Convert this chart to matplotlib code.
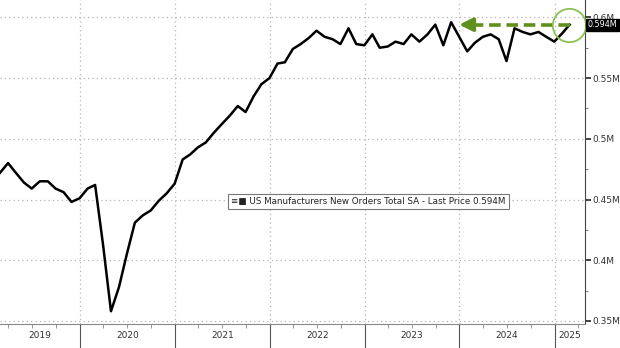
import matplotlib
matplotlib.use("Agg")
import matplotlib.pyplot as plt
import matplotlib.dates as mdates
import pandas as pd
import numpy as np

# monthly values (millions), Feb 2019 - Feb 2025, month-end dates
v2019 = [0.472, 0.480, 0.472, 0.464, 0.459, 0.465, 0.465, 0.459, 0.456, 0.448, 0.451]
v2020 = [0.459, 0.462, 0.412, 0.358, 0.378, 0.405, 0.431, 0.437, 0.441, 0.449, 0.455, 0.463]
v2021 = [0.483, 0.487, 0.493, 0.497, 0.505, 0.512, 0.519, 0.527, 0.522, 0.535, 0.545, 0.550]
v2022 = [0.562, 0.563, 0.574, 0.578, 0.583, 0.589, 0.584, 0.582, 0.578, 0.591, 0.578, 0.577]
v2023 = [0.586, 0.575, 0.576, 0.580, 0.578, 0.586, 0.580, 0.586, 0.594, 0.577, 0.596, 0.584]
v2024 = [0.572, 0.579, 0.584, 0.586, 0.582, 0.564, 0.591, 0.588, 0.586, 0.588, 0.584, 0.580]
v2025 = [0.587, 0.594]
values = v2019 + v2020 + v2021 + v2022 + v2023 + v2024 + v2025
dates = pd.date_range("2019-02-28", periods=len(values), freq="ME")

years = [2019, 2020, 2021, 2022, 2023, 2024, 2025]
yticks = [0.35, 0.4, 0.45, 0.5, 0.55, 0.6]
ytick_labels = ["0.35M", "0.4M", "0.45M", "0.5M", "0.55M", "0.6M"]
last_label = "0.594M"
legend_text = "US Manufacturers New Orders Total SA - Last Price 0.594M"

x0 = pd.Timestamp("2019-02-28")
x1 = pd.Timestamp("2025-04-28")

fig = plt.figure(figsize=(6.2, 3.48), dpi=100)
ax = fig.add_axes([0.0, 0.069, 0.9435, 0.931])

ax.plot(dates, values, color="black", lw=1.8, zorder=3)

ax.set_xlim(x0, x1)
ax.set_ylim(0.3475, 0.6143)

# grid
grid_kw = dict(color="#b5b5b5", lw=0.9, linestyle=(0, (1, 2.5)), zorder=1)
for y in yticks:
    ax.axhline(y, **grid_kw)
for yr in years[1:]:
    ax.axvline(pd.Timestamp(f"{yr}-01-01"), **grid_kw)

# spines
for s in ["top", "left"]:
    ax.spines[s].set_visible(False)
ax.spines["right"].set_color("#444444")
ax.spines["bottom"].set_color("#888888")

# y axis on right
ax.yaxis.tick_right()
ax.set_yticks(yticks)
ax.set_yticklabels(ytick_labels)
ax.set_yticks(np.arange(0.375, 0.6, 0.05), minor=True)
ax.tick_params(axis="y", which="major", length=4, width=1.2, color="#222222",
               labelsize=6.5, labelcolor="#333333", pad=1)
ax.tick_params(axis="y", which="minor", length=2, width=0.6, color="#666666")

# x axis: year separators and quarterly ticks
ax.set_xticks([mdates.date2num(pd.Timestamp(f"{yr}-01-01")) for yr in years[1:]])
ax.set_xticklabels([])
ax.xaxis.set_minor_locator(mdates.MonthLocator(bymonth=[1, 4, 7, 10]))
ax.tick_params(axis="x", which="major", length=18, width=0.8, color="#555555")
ax.tick_params(axis="x", which="minor", length=3, width=0.6, color="#888888")

starts = [max(x0, pd.Timestamp(f"{yr}-01-01")) for yr in years]
ends = [min(x1, pd.Timestamp(f"{yr + 1}-01-01")) for yr in years]
for yr, a, b in zip(years, starts, ends):
    mid = a + (b - a) / 2
    ax.text(mid, -0.035, str(yr), transform=ax.get_xaxis_transform(),
            ha="center", va="center", fontsize=6.5, color="#333333", clip_on=False)

# legend box
ax.text(0.395, 0.378, "\u2261\u25a0 " + legend_text, transform=ax.transAxes,
        ha="left", va="center", fontsize=6.3, color="#222222", zorder=5,
        bbox=dict(boxstyle="square,pad=0.35", fc="white", ec="#777777", lw=0.8))

# last price tag
ax.annotate(last_label, xy=(1.0, values[-1]), xycoords=("axes fraction", "data"),
            xytext=(2, 0), textcoords="offset points", ha="left", va="center",
            fontsize=5.8, color="white", annotation_clip=False,
            bbox=dict(boxstyle="square,pad=0.2", fc="black", ec="black"), zorder=6)

# green dashed arrow and circle
green = "#5f8f1c"
arrow_end = dates[-15]
ax.plot([dates[-1], arrow_end + pd.Timedelta(days=50)], [values[-1], values[-1]],
        color=green, lw=2.6, linestyle=(0, (3.2, 1.6)), zorder=4)
ax.annotate("", xy=(arrow_end, values[-1]),
            xytext=(arrow_end + pd.Timedelta(days=60), values[-1]),
            arrowprops=dict(arrowstyle="-|>,head_width=0.4,head_length=0.8",
                            color=green, lw=2.6, shrinkA=0, shrinkB=0), zorder=4)
ax.plot([dates[-1] - pd.Timedelta(days=3)], [values[-1] - 0.0005], marker="o",
        markersize=24, mfc="none", mec="#8cc052", mew=1.3, zorder=4, clip_on=False)

fig.savefig("out.png", dpi=100)
